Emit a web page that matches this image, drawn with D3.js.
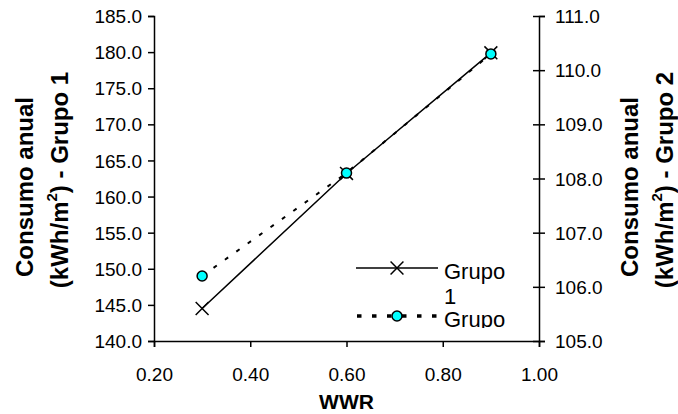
<!DOCTYPE html>
<html>
<head>
<meta charset="utf-8">
<script src="https://cdn.jsdelivr.net/npm/d3@7/dist/d3.min.js"></script>
<style>
  body { margin: 0; background: #fff; }
  text { font-family: Arial, "Liberation Sans", sans-serif; fill: #000; }
</style>
</head>
<body>
<div id="chart"></div>
<script>
// data
const wwr = [0.3, 0.6, 0.9]
const grupo1 = [144.5, 163.2, 179.9]
const grupo2 = [106.2, 108.1, 110.3]
const xTicks = [0.2, 0.4, 0.6, 0.8, 1.0]
const leftTicks = [140, 145, 150, 155, 160, 165, 170, 175, 180, 185]
const rightTicks = [105, 106, 107, 108, 109, 110, 111]

const W = 678, H = 414
const plot = { left: 154, right: 539, top: 16, bottom: 341 }

const svg = d3.select('#chart').append('svg')
  .attr('width', W).attr('height', H)

const x = d3.scaleLinear().domain([0.2, 1.0]).range([plot.left, plot.right])
const yL = d3.scaleLinear().domain([140, 185]).range([plot.bottom, plot.top])
const yR = d3.scaleLinear().domain([105, 111]).range([plot.bottom, plot.top])

// axes
const xAxis = svg.append('g')
  .attr('transform', `translate(0,${plot.bottom})`)
  .call(d3.axisBottom(x).tickValues(xTicks).tickFormat(d3.format('.2f')).tickSize(6).tickPadding(21))
const lAxis = svg.append('g')
  .attr('transform', `translate(${plot.left},0)`)
  .call(d3.axisLeft(yL).tickValues(leftTicks).tickFormat(d3.format('.1f')).tickSize(6).tickPadding(6))
const rAxis = svg.append('g')
  .attr('transform', `translate(${plot.right},0)`)
  .call(d3.axisRight(yR).tickValues(rightTicks).tickFormat(d3.format('.1f')).tickSize(6).tickPadding(10))
rAxis.selectAll('.tick line').attr('x1', -6)

for (const ax of [xAxis, lAxis, rAxis]) {
  ax.select('.domain').attr('stroke', '#000').attr('stroke-width', 1.5)
  ax.selectAll('.tick line').attr('stroke', '#000').attr('stroke-width', 1.5)
  ax.selectAll('.tick text').attr('font-size', '19px').attr('font-family', 'Arial, "Liberation Sans", sans-serif')
}
lAxis.selectAll('.tick text').attr('dy', '0.35em')
rAxis.selectAll('.tick text').attr('dy', '0.35em')

// axis titles
svg.append('text')
  .attr('x', x(0.6)).attr('y', 409)
  .attr('text-anchor', 'middle')
  .attr('font-size', '21px').attr('font-weight', 'bold')
  .text('WWR')

function yTitle(cx, group) {
  svg.append('text')
    .attr('transform', `translate(${cx},187) rotate(-90)`)
    .attr('text-anchor', 'middle')
    .attr('font-size', '24px').attr('font-weight', 'bold')
    .text('Consumo anual')
  const t = svg.append('text')
    .attr('transform', `translate(${cx + 35},180) rotate(-90)`)
    .attr('text-anchor', 'middle')
    .attr('font-size', '24px').attr('font-weight', 'bold')
  t.append('tspan').text('(kWh/m')
  t.append('tspan').attr('font-size', '15px').attr('dy', -11).text('2')
  t.append('tspan').attr('dy', 11).text(`) - Grupo ${group}`)
}
yTitle(33, 1)
yTitle(638, 2)

// series
const pts1 = wwr.map((w, i) => [w, grupo1[i]])
const pts2 = wwr.map((w, i) => [w, grupo2[i]])

svg.append('path')
  .datum(pts1)
  .attr('fill', 'none').attr('stroke', '#000').attr('stroke-width', 1.5)
  .attr('d', d3.line().x(d => x(d[0])).y(d => yL(d[1])))

const cross = d3.symbol().type(d3.symbolX).size(110)
svg.append('g').selectAll('path')
  .data(pts1).enter().append('path')
  .attr('transform', d => `translate(${x(d[0])},${yL(d[1])})`)
  .attr('d', cross)
  .attr('fill', 'none').attr('stroke', '#000').attr('stroke-width', 1.5)

svg.append('path')
  .datum(pts2)
  .attr('fill', 'none').attr('stroke', '#000').attr('stroke-width', 2)
  .attr('stroke-dasharray', '4,10')
  .attr('d', d3.line().x(d => x(d[0])).y(d => yR(d[1])))

svg.append('g').selectAll('circle')
  .data(pts2).enter().append('circle')
  .attr('cx', d => x(d[0])).attr('cy', d => yR(d[1]))
  .attr('r', 5)
  .attr('fill', '#00ffff').attr('stroke', '#000').attr('stroke-width', 1.5)

// legend (clipped like the original, names wrap onto two lines)
svg.append('clipPath').attr('id', 'legclip')
  .append('rect').attr('x', 340).attr('y', 250).attr('width', 195).attr('height', 78)
const leg = svg.append('g').attr('clip-path', 'url(#legclip)')

function legLabel(y, name) {
  const parts = name.split(' ')
  const t = leg.append('text').attr('x', 444).attr('y', y).attr('font-size', '22px')
  t.append('tspan').attr('x', 444).text(parts[0])
  t.append('tspan').attr('x', 444).attr('dy', 25).text(parts[1])
}

leg.append('line')
  .attr('x1', 356).attr('x2', 438).attr('y1', 268).attr('y2', 268)
  .attr('stroke', '#000').attr('stroke-width', 1.5)
leg.append('path')
  .attr('transform', 'translate(397,268)')
  .attr('d', cross)
  .attr('fill', 'none').attr('stroke', '#000').attr('stroke-width', 1.5)
legLabel(279, 'Grupo 1')

leg.append('line')
  .attr('x1', 357).attr('x2', 441).attr('y1', 316).attr('y2', 316)
  .attr('stroke', '#000').attr('stroke-width', 3.5)
  .attr('stroke-dasharray', '4.5,10.5')
leg.append('circle')
  .attr('cx', 397).attr('cy', 316).attr('r', 5)
  .attr('fill', '#00ffff').attr('stroke', '#000').attr('stroke-width', 1.5)
legLabel(327, 'Grupo 2')
</script>
</body>
</html>
